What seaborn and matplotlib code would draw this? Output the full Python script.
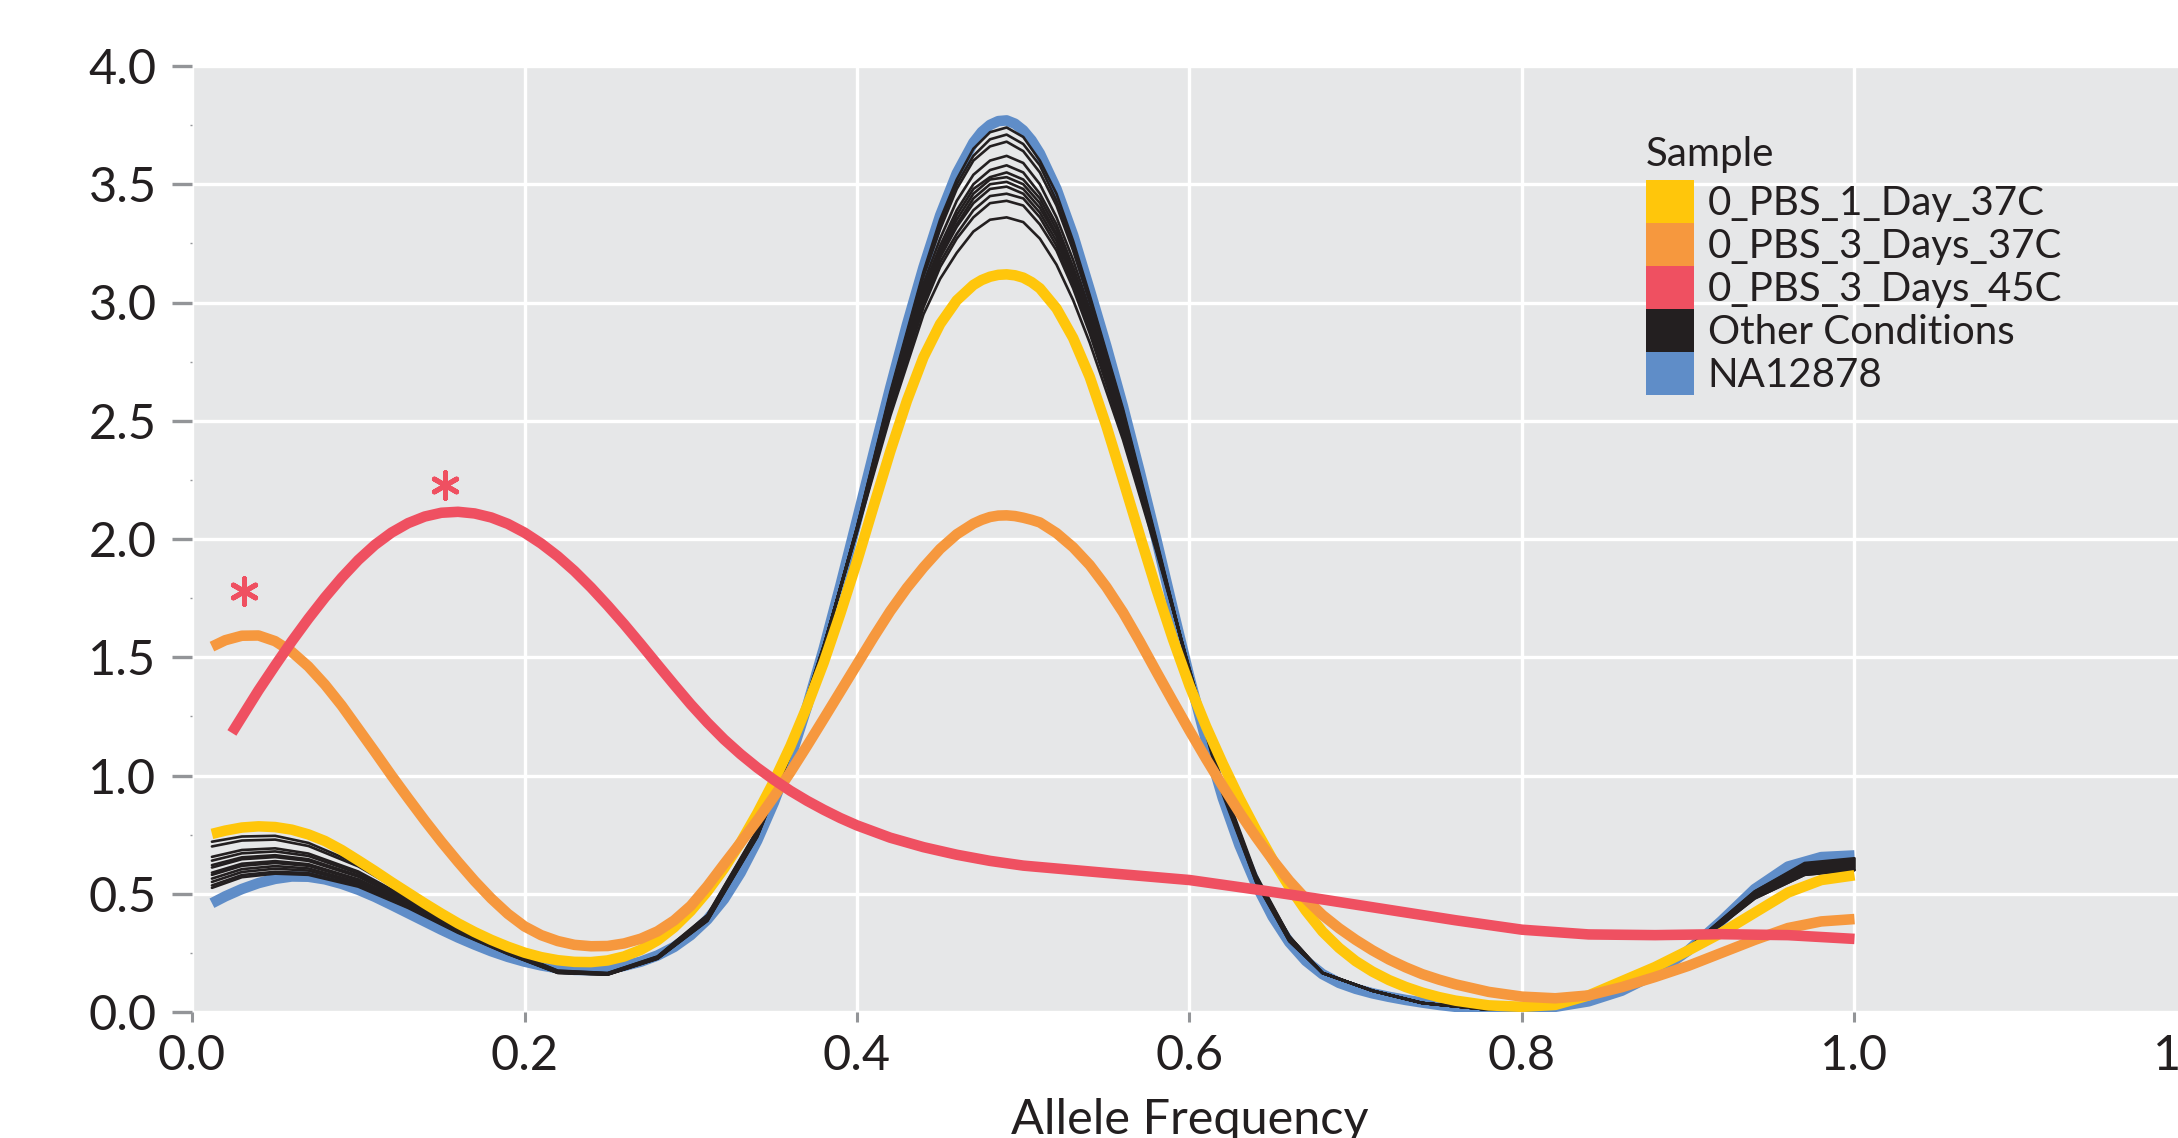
import pandas as pd
import matplotlib
matplotlib.use('Agg')
import matplotlib.pyplot as plt
from matplotlib.patches import Patch
import seaborn as sns

# -------------------------------
# density curves
# -------------------------------
af_grid = [0.012, 0.02, 0.03, 0.04, 0.05, 0.06, 0.07, 0.08, 0.09, 0.10,
           0.11, 0.12, 0.13, 0.14, 0.15, 0.16, 0.17, 0.18, 0.19, 0.20,
           0.21, 0.22, 0.23, 0.24, 0.25, 0.26, 0.27, 0.28, 0.29, 0.30,
           0.31, 0.32, 0.33, 0.34, 0.35, 0.36, 0.37, 0.38, 0.39, 0.40,
           0.41, 0.42, 0.43, 0.44, 0.45, 0.46, 0.47, 0.475, 0.48, 0.485,
           0.49, 0.495, 0.50, 0.505, 0.51, 0.52, 0.53, 0.54, 0.55, 0.56,
           0.57, 0.58, 0.59, 0.60, 0.61, 0.62, 0.63, 0.64, 0.65, 0.66,
           0.67, 0.68, 0.69, 0.70, 0.71, 0.72, 0.73, 0.74, 0.75, 0.76,
           0.78, 0.80, 0.82, 0.84, 0.86, 0.88, 0.90, 0.92, 0.94, 0.96,
           0.98, 1.00]

na12878 = [0.46, 0.489, 0.520, 0.545, 0.563, 0.573, 0.572, 0.561, 0.542, 0.517,
           0.487, 0.453, 0.418, 0.383, 0.348, 0.315, 0.285, 0.257, 0.233, 0.213,
           0.197, 0.185, 0.178, 0.177, 0.183, 0.195, 0.213, 0.239, 0.275, 0.325,
           0.391, 0.477, 0.589, 0.725, 0.886, 1.073, 1.293, 1.537, 1.803, 2.081,
           2.363, 2.64, 2.905, 3.149, 3.368, 3.546, 3.676, 3.721, 3.751, 3.767,
           3.77, 3.756, 3.728, 3.686, 3.63, 3.48, 3.285, 3.053, 2.815, 2.56,
           2.286, 2.00, 1.704, 1.415, 1.146, 0.905, 0.706, 0.54, 0.403, 0.295,
           0.216, 0.16, 0.123, 0.098, 0.079, 0.064, 0.051, 0.040, 0.030, 0.022,
           0.012, 0.010, 0.022, 0.045, 0.09, 0.16, 0.26, 0.385, 0.52, 0.615,
           0.655, 0.662]

pbs_1day_37c = [0.753, 0.767, 0.780, 0.785, 0.782, 0.771, 0.751, 0.723, 0.685, 0.641,
                0.596, 0.549, 0.504, 0.459, 0.416, 0.375, 0.338, 0.305, 0.276, 0.251,
                0.232, 0.219, 0.212, 0.211, 0.218, 0.235, 0.263, 0.303, 0.358, 0.427,
                0.510, 0.607, 0.717, 0.84, 0.975, 1.125, 1.293, 1.478, 1.685, 1.905,
                2.139, 2.37, 2.584, 2.769, 2.909, 3.009, 3.074, 3.095, 3.109, 3.117,
                3.119, 3.115, 3.105, 3.086, 3.06, 2.975, 2.85, 2.685, 2.478, 2.25,
                2.018, 1.79, 1.577, 1.38, 1.207, 1.05, 0.904, 0.77, 0.644, 0.53,
                0.428, 0.34, 0.271, 0.215, 0.171, 0.135, 0.106, 0.082, 0.063, 0.048,
                0.028, 0.022, 0.03, 0.07, 0.13, 0.19, 0.26, 0.335, 0.42, 0.505,
                0.558, 0.578]

pbs_3days_37c = [1.545, 1.572, 1.591, 1.592, 1.568, 1.523, 1.461, 1.384, 1.296, 1.198,
                 1.10, 1.0, 0.904, 0.81, 0.72, 0.635, 0.554, 0.48, 0.415, 0.362,
                 0.325, 0.30, 0.284, 0.278, 0.279, 0.29, 0.31, 0.341, 0.387, 0.449,
                 0.532, 0.625, 0.716, 0.81, 0.91, 1.015, 1.126, 1.24, 1.355, 1.47,
                 1.585, 1.695, 1.793, 1.88, 1.958, 2.02, 2.065, 2.081, 2.093, 2.099,
                 2.10, 2.097, 2.09, 2.081, 2.07, 2.025, 1.965, 1.89, 1.797, 1.69,
                 1.568, 1.44, 1.314, 1.19, 1.07, 0.955, 0.844, 0.74, 0.643, 0.555,
                 0.478, 0.41, 0.354, 0.305, 0.261, 0.222, 0.189, 0.16, 0.137, 0.117,
                 0.085, 0.065, 0.058, 0.07, 0.105, 0.148, 0.195, 0.25, 0.305, 0.355,
                 0.383, 0.393]

af_red = [0.024, 0.04, 0.05, 0.06, 0.07, 0.08, 0.09, 0.10, 0.11, 0.12,
          0.13, 0.14, 0.15, 0.16, 0.17, 0.18, 0.19, 0.20, 0.21, 0.22,
          0.23, 0.24, 0.25, 0.26, 0.27, 0.28, 0.29, 0.30, 0.31, 0.32,
          0.33, 0.34, 0.35, 0.36, 0.37, 0.38, 0.39, 0.40, 0.42, 0.44,
          0.46, 0.48, 0.50, 0.55, 0.60, 0.64, 0.68, 0.72, 0.76, 0.80,
          0.84, 0.88, 0.92, 0.96, 1.00]
pbs_3days_45c = [1.18, 1.36, 1.465, 1.567, 1.663, 1.753, 1.836, 1.911, 1.975, 2.027,
                 2.067, 2.095, 2.111, 2.115, 2.108, 2.091, 2.064, 2.027, 1.981, 1.927,
                 1.865, 1.795, 1.719, 1.639, 1.555, 1.469, 1.384, 1.301, 1.224, 1.153,
                 1.09, 1.033, 0.982, 0.935, 0.893, 0.855, 0.82, 0.789, 0.737, 0.697,
                 0.665, 0.639, 0.619, 0.588, 0.558, 0.518, 0.476, 0.432, 0.388, 0.348,
                 0.328, 0.325, 0.329, 0.325, 0.309]

af_grid_other = [0.012, 0.03, 0.05, 0.07, 0.10, 0.13, 0.16, 0.19, 0.22, 0.25, 0.28,
                 0.31, 0.34, 0.36, 0.38, 0.40, 0.42, 0.44, 0.45, 0.46, 0.47, 0.48,
                 0.49, 0.50, 0.51, 0.52, 0.53, 0.54, 0.56, 0.58, 0.60, 0.62, 0.64,
                 0.66, 0.68, 0.71, 0.74, 0.78, 0.82, 0.86, 0.90, 0.94, 0.97, 1.00]

other_conditions = [
    [0.525, 0.57, 0.585, 0.58, 0.53, 0.44, 0.335, 0.245, 0.165, 0.158, 0.225, 0.385, 0.74, 1.09, 1.54, 2.05,
     2.62, 3.13, 3.35, 3.52, 3.65, 3.72, 3.74, 3.70, 3.60, 3.46, 3.26, 3.03, 2.55, 2.00, 1.43, 0.92, 0.55,
     0.30, 0.165, 0.09, 0.038, 0.01, 0.022, 0.10, 0.27, 0.51, 0.63, 0.65],
    [0.535, 0.579, 0.593, 0.587, 0.535, 0.443, 0.337, 0.246, 0.166, 0.158, 0.226, 0.386, 0.742, 1.092, 1.54, 2.049,
     2.61, 3.12, 3.33, 3.50, 3.62, 3.69, 3.71, 3.67, 3.58, 3.43, 3.24, 3.02, 2.54, 1.99, 1.43, 0.93, 0.55,
     0.30, 0.165, 0.09, 0.038, 0.01, 0.022, 0.10, 0.27, 0.51, 0.625, 0.645],
    [0.55, 0.592, 0.606, 0.598, 0.542, 0.448, 0.339, 0.247, 0.166, 0.159, 0.226, 0.388, 0.744, 1.094, 1.541, 2.047,
     2.61, 3.11, 3.31, 3.48, 3.60, 3.66, 3.68, 3.64, 3.55, 3.41, 3.22, 3.00, 2.53, 1.99, 1.44, 0.93, 0.56,
     0.30, 0.165, 0.09, 0.038, 0.01, 0.022, 0.10, 0.27, 0.505, 0.62, 0.64],
    [0.564, 0.604, 0.617, 0.607, 0.549, 0.452, 0.341, 0.248, 0.167, 0.159, 0.227, 0.39, 0.746, 1.096, 1.542, 2.046,
     2.59, 3.08, 3.27, 3.43, 3.54, 3.60, 3.62, 3.59, 3.50, 3.36, 3.18, 2.97, 2.51, 1.98, 1.44, 0.94, 0.56,
     0.31, 0.165, 0.09, 0.038, 0.01, 0.022, 0.10, 0.27, 0.50, 0.615, 0.635],
    [0.58, 0.618, 0.63, 0.618, 0.557, 0.457, 0.343, 0.249, 0.168, 0.16, 0.228, 0.392, 0.748, 1.098, 1.543, 2.044,
     2.58, 3.06, 3.24, 3.39, 3.50, 3.56, 3.58, 3.55, 3.46, 3.33, 3.15, 2.95, 2.50, 1.98, 1.44, 0.94, 0.56,
     0.31, 0.165, 0.09, 0.038, 0.01, 0.022, 0.10, 0.265, 0.50, 0.61, 0.63],
    [0.589, 0.627, 0.638, 0.625, 0.561, 0.46, 0.345, 0.25, 0.168, 0.16, 0.228, 0.393, 0.75, 1.10, 1.543, 2.043,
     2.57, 3.04, 3.22, 3.37, 3.48, 3.53, 3.55, 3.52, 3.44, 3.31, 3.13, 2.93, 2.49, 1.97, 1.44, 0.94, 0.57,
     0.31, 0.165, 0.09, 0.038, 0.01, 0.022, 0.10, 0.265, 0.495, 0.605, 0.625],
    [0.611, 0.646, 0.655, 0.639, 0.572, 0.466, 0.348, 0.252, 0.169, 0.161, 0.229, 0.396, 0.753, 1.103, 1.544, 2.041,
     2.57, 3.03, 3.21, 3.35, 3.46, 3.52, 3.53, 3.50, 3.42, 3.29, 3.12, 2.92, 2.48, 1.97, 1.44, 0.94, 0.57,
     0.31, 0.165, 0.09, 0.038, 0.01, 0.022, 0.10, 0.265, 0.495, 0.60, 0.62],
    [0.621, 0.654, 0.663, 0.646, 0.577, 0.469, 0.35, 0.252, 0.17, 0.161, 0.23, 0.397, 0.755, 1.105, 1.545, 2.04,
     2.56, 3.02, 3.20, 3.33, 3.44, 3.50, 3.51, 3.48, 3.40, 3.28, 3.11, 2.91, 2.47, 1.97, 1.44, 0.95, 0.57,
     0.31, 0.165, 0.09, 0.038, 0.01, 0.022, 0.10, 0.265, 0.49, 0.595, 0.615],
    [0.64, 0.671, 0.679, 0.66, 0.586, 0.475, 0.353, 0.254, 0.171, 0.162, 0.231, 0.40, 0.758, 1.108, 1.546, 2.038,
     2.55, 3.01, 3.19, 3.32, 3.42, 3.48, 3.49, 3.46, 3.38, 3.26, 3.10, 2.90, 2.47, 1.97, 1.44, 0.95, 0.57,
     0.31, 0.165, 0.09, 0.038, 0.01, 0.022, 0.10, 0.26, 0.49, 0.59, 0.61],
    [0.656, 0.685, 0.692, 0.67, 0.594, 0.48, 0.355, 0.255, 0.172, 0.163, 0.232, 0.402, 0.76, 1.11, 1.547, 2.037,
     2.55, 3.00, 3.17, 3.29, 3.39, 3.45, 3.46, 3.44, 3.36, 3.24, 3.08, 2.88, 2.46, 1.96, 1.45, 0.95, 0.57,
     0.32, 0.165, 0.09, 0.038, 0.01, 0.022, 0.10, 0.26, 0.485, 0.585, 0.605],
    [0.70, 0.725, 0.729, 0.702, 0.616, 0.494, 0.362, 0.259, 0.174, 0.164, 0.234, 0.408, 0.767, 1.117, 1.549, 2.032,
     2.54, 2.98, 3.15, 3.27, 3.36, 3.42, 3.43, 3.41, 3.33, 3.22, 3.06, 2.87, 2.44, 1.96, 1.45, 0.95, 0.57,
     0.32, 0.165, 0.09, 0.038, 0.01, 0.022, 0.10, 0.26, 0.48, 0.58, 0.60],
    [0.72, 0.742, 0.745, 0.715, 0.625, 0.50, 0.365, 0.26, 0.175, 0.165, 0.235, 0.41, 0.77, 1.12, 1.55, 2.03,
     2.52, 2.95, 3.10, 3.21, 3.30, 3.35, 3.36, 3.34, 3.27, 3.16, 3.01, 2.83, 2.42, 1.95, 1.45, 0.96, 0.58,
     0.32, 0.165, 0.09, 0.038, 0.01, 0.022, 0.10, 0.26, 0.48, 0.58, 0.60],
]

# asterisks marking the 45C peaks
star_af = [0.031, 0.152]
star_density = [1.78, 2.23]

legend_labels = ['0_PBS_1_Day_37C', '0_PBS_3_Days_37C', '0_PBS_3_Days_45C',
                 'Other Conditions', 'NA12878']
x_ticks = [0.0, 0.2, 0.4, 0.6, 0.8, 1.0, 1.2]
y_ticks = [0.0, 0.5, 1.0, 1.5, 2.0, 2.5, 3.0, 3.5, 4.0]
y_minor = [0.25, 0.75, 1.25, 1.75, 2.25, 2.75, 3.25, 3.75]

colors = {
    '0_PBS_1_Day_37C': '#FFC60B',
    '0_PBS_3_Days_37C': '#F6983E',
    '0_PBS_3_Days_45C': '#EF5061',
    'Other Conditions': '#231F20',
    'NA12878': '#5F8DC8',
}
TEXT = '#231F20'
TICK = '#939598'

# -------------------------------
# long table
# -------------------------------
frames = [
    pd.DataFrame({'af': af_grid, 'density': na12878, 'sample': 'NA12878', 'line': 'b'}),
    pd.DataFrame({'af': af_grid, 'density': pbs_1day_37c, 'sample': '0_PBS_1_Day_37C', 'line': 'y'}),
    pd.DataFrame({'af': af_grid, 'density': pbs_3days_37c, 'sample': '0_PBS_3_Days_37C', 'line': 'o'}),
    pd.DataFrame({'af': af_red, 'density': pbs_3days_45c, 'sample': '0_PBS_3_Days_45C', 'line': 'r'}),
]
for i, ys in enumerate(other_conditions):
    frames.append(pd.DataFrame({'af': af_grid_other, 'density': ys,
                                'sample': 'Other Conditions', 'line': f'other_{i}'}))
df = pd.concat(frames, ignore_index=True)

# -------------------------------
# plot
# -------------------------------
sns.set_theme(style='darkgrid', rc={'axes.facecolor': '#E6E7E8',
                                    'grid.color': 'white',
                                    'grid.linewidth': 2.4})
plt.rcParams['font.family'] = ['Lato', 'DejaVu Sans']

fig = plt.figure(figsize=(21.78, 11.38), dpi=100)
ax = fig.add_axes([192 / 2178, 126 / 1138, 1995 / 2178, 946 / 1138])

thick = dict(linewidth=7.6, solid_capstyle='butt', estimator=None, legend=False, ax=ax)

sns.lineplot(data=df[df['sample'] == 'NA12878'], x='af', y='density',
             color=colors['NA12878'], **thick)
sns.lineplot(data=df[df['sample'] == 'Other Conditions'], x='af', y='density',
             units='line', estimator=None, color=colors['Other Conditions'],
             linewidth=1.9, legend=False, ax=ax)
for name in ['0_PBS_1_Day_37C', '0_PBS_3_Days_37C', '0_PBS_3_Days_45C']:
    sns.lineplot(data=df[df['sample'] == name], x='af', y='density',
                 color=colors[name], **thick)

sns.scatterplot(x=star_af, y=star_density, marker=(6, 2, 0), s=340,
                color=colors['0_PBS_3_Days_45C'], linewidth=3.6, legend=False,
                ax=ax, zorder=5)

ax.set_xlim(0, 1.2)
ax.set_ylim(0, 4.0)
ax.set_xticks(x_ticks)
ax.set_xticklabels([f'{t:.1f}' for t in x_ticks])
ax.set_yticks(y_ticks)
ax.set_yticklabels([f'{t:.1f}' for t in y_ticks])
ax.set_yticks(y_minor, minor=True)
ax.grid(True, which='major')
ax.grid(False, which='minor')
for s in ax.spines.values():
    s.set_visible(False)

ax.tick_params(axis='y', which='major', left=True, direction='out', length=14.5,
               width=2.4, color=TICK, pad=11, labelsize=35, labelcolor=TEXT)
ax.tick_params(axis='y', which='minor', left=True, direction='out', length=1.5,
               width=1, color=TICK)
ax.tick_params(axis='x', which='major', bottom=True, direction='out', length=7,
               width=2.2, color=TICK, pad=9, labelsize=35, labelcolor=TEXT)

ax.set_xlabel('Allele Frequency', fontsize=35, color=TEXT, labelpad=14)
ax.set_ylabel('')

handles = [Patch(facecolor=colors[l], edgecolor='none', label=l) for l in legend_labels]
leg = fig.legend(handles=handles, title='Sample', loc='upper left',
                 bbox_to_anchor=(1646 / 2178, 1 - 136 / 1138), frameon=False,
                 fontsize=29, title_fontsize=29, handlelength=1.19, handleheight=1.268,
                 labelspacing=0, handletextpad=0.345, borderpad=0, borderaxespad=0,
                 alignment='left')
leg._legend_box.sep = 5  # a little air between title and swatches
for t in leg.get_texts():
    t.set_color(TEXT)
leg.get_title().set_color(TEXT)

fig.savefig('out.png', dpi=100)
